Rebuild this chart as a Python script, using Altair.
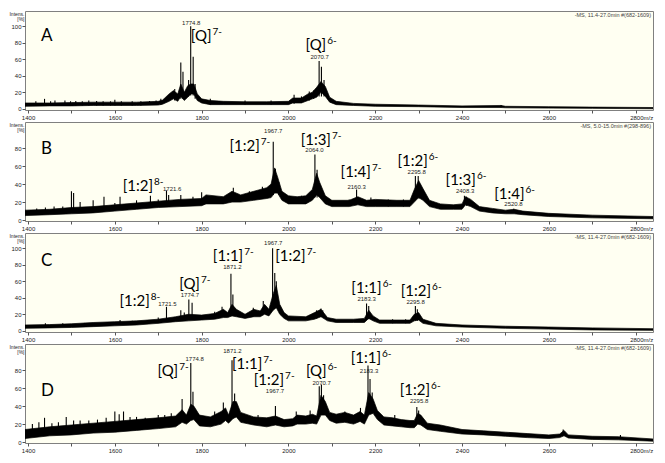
import altair as alt
import pandas as pd

X_DOMAIN = [1393, 2840]
X_TICKS = list(range(1400, 2900, 100))

# ---------------- Panel A ----------------
A_band_mz = [1393,1450,1500,1550,1600,1650,1700,1710,1725,1735,1745,1752,1760,1768,1775,1782,1790,1800,1820,1850,1900,1950,2000,2010,2030,2045,2055,2065,2075,2085,2095,2110,2150,2200,2300,2400,2490,2500,2600,2700,2840]
A_band_lo = [3,3.5,3.5,4,4,4,4.5,5.5,9,12,9,15,10,14,18,18,10,7,5,5,5,5,5,7,7,10,12,14,20,15,8,5,4,3,2.5,1.5,1.5,1.2,0.8,0.5,0]
A_band_hi = [7,7,7.5,8,8,8,9,10.5,18,22,18,30,20,28,30,30,18,12,10,9,8.5,8.5,9,13,13,18,20,26,33,27,14,9,6.5,5.5,4.5,3.5,4,3,2.5,2,1.5]
A_pk_mz = [1418,1438,1452,1462,1485,1498,1510,1525,1540,1558,1573,1590,1600,1615,1640,1660,1680,1695,1706,1738,1752,1757,1770,1774.8,1780.5,1785,1820,1900,1960,2013,2030,2048,2058,2070.7,2076,2082,2490]
A_pk_base = [4,4,4,4,4,4,4,4,4,4,4,4,4,4,4,4,4.5,4.5,5,10,12,12,15,16,16,12,5,5,5,6,7,10,12,15,15,15,1.5]
A_pk_top = [9,12,9,10,10,9,9.5,9,10,9.5,9,9,11,9,9,9,9.5,10,12,24,56,45,35,100,63,30,12,10,10,17,15,21,22,58,51,35,4.5]
A_ion_main = ["[Q]", "[Q]"]
A_ion_sup = ["7-", "6-"]
A_ion_x = [1822.7, 2087]
A_ion_y = [82.5, 71.5]
A_lbl = ["1774.8", "2070.7"]
A_lbl_x = [1776, 2072]
A_lbl_y = [101, 60]
A_side_lbl, A_side_x, A_side_y = [], [], []

# ---------------- Panel B ----------------
B_band_mz = [1393,1450,1500,1550,1600,1650,1700,1750,1800,1810,1850,1870,1890,1920,1950,1960,1968,1975,1985,2000,2020,2040,2055,2065,2072,2085,2100,2140,2160,2180,2200,2250,2280,2290,2300,2310,2325,2350,2380,2400,2408,2420,2440,2470,2500,2520,2540,2600,2700,2840]
B_band_lo = [5,6,7,8,10,12,14,15,16,18,18,20,20,22,24,25,30,30,22,18,18,18,22,28,25,18,15,15,17,15,15,15,15,20,25,22,15,12,12,12,17,15,10,8,7,7,6,4,2.5,1.5]
B_band_hi = [11,12,14,15,17,19,21,23,24,28,26,32,28,32,36,40,58,48,32,27,26,27,34,52,42,27,22,22,26,22,23,22,22,34,44,35,22,18,17,18,26,23,15,13,11,12,10,7.5,5.5,4]
B_pk_mz = [1420,1440,1460,1480,1500,1505,1520,1550,1575,1600,1612,1650,1682,1700,1719,1724,1752,1780,1800,1873,1910,1940,1965,1970,1978,2030,2061,2066,2140,2157,2190,2230,2265,2292.5,2299,2303,2405.5,2410,2519]
B_pk_base = [7,8,8,8,9,9,10,10,11,12,12,13,14,15,16,16,17,17,18,22,22,24,28,30,28,18,25,25,16,18,16,15,15,22,24,24,16,16,8]
B_pk_top = [13,14,15,15,32,30,20,22,26,19,26,22,27,23,33,28,28,26,31,36,32,37,87,57,42,27,73,56,23,34,25,23,23,49,49,40,27,26,12.5]
B_ion_main = ["[1:2]", "[1:2]", "[1:3]", "[1:4]", "[1:2]", "[1:3]", "[1:4]"]
B_ion_sup = ["8-", "7-", "7-", "7-", "6-", "6-", "6-"]
B_ion_x = [1688, 1934, 2098, 2190, 2321, 2432, 2544]
B_ion_y = [32.6, 77, 83.7, 47.4, 59.6, 38.9, 24]
B_lbl = ["1967.7", "2064.0", "2160.3", "2295.8", "2408.3", "2520.8"]
B_lbl_x = [1965, 2060, 2157, 2295.6, 2407, 2518.5]
B_lbl_y = [96.6, 75.9, 35, 51, 30, 15.9]
B_side_lbl, B_side_x, B_side_y = ["1721.6"], [1711], [32.6]

# ---------------- Panel C ----------------
C_band_mz = [1393,1450,1500,1550,1600,1650,1700,1740,1770,1800,1830,1850,1860,1870,1880,1900,1920,1935,1945,1955,1965,1972,1980,1990,2000,2040,2060,2075,2090,2110,2150,2175,2185,2195,2210,2250,2280,2290,2300,2310,2340,2400,2500,2600,2700,2840]
C_band_lo = [3,3.5,4,5,6,7,9,11,12,13,14,16,16,18,17,15,17,17,20,18,25,28,20,15,12,12,14,17,12,10,10,10,15,12,9,9,9,12,13,9,6,4.5,3,2,1,0.5]
C_band_hi = [7,7.5,8.5,10,11,12,14,17,20,19,21,26,22,32,26,20,26,24,32,26,45,55,32,22,18,17,22,26,16,14,14,15,25,18,13,13,13,20,22,14,9,7,5.5,4.5,3.5,2.5]
C_pk_mz = [1440,1480,1530,1612,1640,1700,1719,1752,1760,1770.5,1778,1830,1847,1867.5,1872,1919,1942,1963.5,1968.5,1972,2065,2075,2079,2180,2185,2240,2270,2292.5,2297]
C_pk_base = [4,5,5,7,7,9,11,12,12,13,13,15,18,20,20,17,21,28,28,28,15,17,17,14,14,9,9,12,12]
C_pk_top = [9,9,9.5,13,12,16,29,25,22,38,34,23,29,69,44,28,36,100,70,60,25,27,25,33,30,14,14,30,26]
C_ion_main = ["[1:2]", "[Q]", "[1:1]", "[1:2]", "[1:1]", "[1:2]"]
C_ion_sup = ["8-", "7-", "7-", "7-", "6-", "6-"]
C_ion_x = [1680.6, 1796, 1895.8, 2039.6, 2214.8, 2328.7]
C_ion_y = [30, 51, 84, 85, 46, 42]
C_lbl = ["1774.7", "1871.2", "1967.7", "2183.3", "2295.8"]
C_lbl_x = [1773, 1871, 1965, 2180, 2293]
C_lbl_y = [41.5, 74.5, 104.5, 35.5, 32.5]
C_side_lbl, C_side_x, C_side_y = ["1721.5"], [1700], [30]

# ---------------- Panel D ----------------
D_band_mz = [1393,1450,1500,1550,1600,1650,1700,1740,1755,1765,1775,1782,1795,1820,1845,1855,1862,1872,1880,1890,1920,1950,1970,1990,2010,2020,2040,2055,2065,2075,2085,2095,2110,2130,2150,2165,2175,2185,2195,2205,2220,2240,2260,2280,2290,2298,2305,2320,2350,2400,2450,2500,2550,2600,2625,2635,2645,2700,2760,2840]
D_band_lo = [4,7,8,10,11,13,15,17,22,20,24,25,18,17,20,24,21,26,28,22,19,17,19,17,18,20,20,21,20,30,30,24,21,22,20,23,20,30,32,25,19,18,17,16,16,20,19,14,12,9,8,6.5,5,4,5,7,4.5,3,2.5,1]
D_band_hi = [14,17,19,21,23,25,27,29,36,30,42,40,30,28,34,38,30,45,45,33,28,27,29,25,26,30,29,31,29,52,45,33,31,33,30,34,30,55,48,35,28,27,25,24,24,32,30,21,19,14,12.5,11,9.5,8,9,13,8,6.5,6,3.5]
D_pk_mz = [1410,1425,1438,1455,1470,1488,1505,1520,1540,1560,1580,1600,1610,1620,1635,1650,1670,1700,1715,1730,1755,1775,1780,1830,1850,1870,1876,1930,1970,2018,2050,2071,2076,2081,2130,2166,2183.3,2188,2193,2245,2295.8,2300,2633,2765]
D_pk_base = [8,9,10,10,10,12,12,12,12,13,14,15,15,15,16,16,16,18,18,19,24,26,26,21,24,28,28,20,22,22,23,30,30,30,25,25,32,32,32,21,22,22,8,4]
D_pk_top = [20,22,27,21,22,28,24,24,24,25,27,34,31,34,28,28,27,30,30,32,48,88,56,34,44,91,54,30,40,34,35,62,64,52,34,38,85,70,55,30,39,35,14,8]
D_ion_main = ["[Q]", "[1:1]", "[1:2]", "[Q]", "[1:1]", "[1:2]"]
D_ion_sup = ["7-", "7-", "7-", "6-", "6-", "6-"]
D_ion_x = [1746, 1939.7, 1990, 2088, 2213.4, 2326.4]
D_ion_y = [74, 81, 63, 73, 88, 52]
D_lbl = ["1774.8", "1871.2", "1967.7", "2070.7", "2183.3", "2295.8"]
D_lbl_x = [1784, 1871, 1969, 2076.5, 2185.7, 2301]
D_lbl_y = [89.6, 99.5, 54.5, 63.5, 77, 43]
D_side_lbl, D_side_x, D_side_y = [], [], []

LETTERS = ["A", "B", "C", "D"]
LETTER_X = 1430
LETTER_Y = [82, 73, 78, 51]
INFO = ["-MS, 11.4-27.0min #(682-1609)", "-MS, 5.0-15.0min #(298-896)",
        "-MS, 11.4-27.0min #(682-1609)", "-MS, 11.4-27.0min #(682-1609)"]
Y_DOMAINS = [[-1.5, 118.5], [-1, 109], [-1.5, 118.5], [-1, 109]]
Y_TICKS = [[0, 20, 40, 60, 80, 100], [0, 20, 40, 60, 80], [0, 20, 40, 60, 80, 100], [0, 20, 40, 60, 80]]

W, H = 628, 99
LABEL_FONT = "Lato"
AXIS_FONT = "Liberation Sans"


def panel(i, band_mz, band_lo, band_hi, pk_mz, pk_base, pk_top,
          ion_main, ion_sup, ion_x, ion_y, lbl, lbl_x, lbl_y,
          side_lbl, side_x, side_y):
    xs = alt.Scale(domain=X_DOMAIN, nice=False, zero=False)
    ys = alt.Scale(domain=Y_DOMAINS[i], nice=False, zero=False)
    xaxis = alt.Axis(
        values=X_TICKS, title=None, grid=False, domain=False,
        tickSize=3, tickColor="#555", labelPadding=1,
        labelFont=AXIS_FONT, labelFontSize=6, labelColor="#222",
        labelFlush=False, labelOverlap=False,
        labelExpr="datum.value % 200 == 0 ? (datum.value == 2800 ? '2800m/z' : toString(datum.value)) : ''",
        labelAlign={"condition": {"test": "datum.value == 2800", "value": "left"}, "value": "center"},
        labelOffset={"condition": {"test": "datum.value == 2800", "value": -6}, "value": 0},
    )
    yaxis = alt.Axis(
        values=Y_TICKS[i], grid=False, domain=False, tickSize=3, tickColor="#555",
        labelPadding=1, labelFont=AXIS_FONT, labelFontSize=6, labelColor="#222",
        title=["Intens.", "[%]"], titleAngle=0, titleAlign="right", titleBaseline="top",
        titleX=-1, titleY=0, titleFont=AXIS_FONT, titleFontSize=5,
        titleFontWeight="normal", titleLineHeight=5.5, titleColor="#222",
    )
    X = lambda f: alt.X(f, scale=xs, axis=xaxis)
    Y = lambda f: alt.Y(f, scale=ys, axis=yaxis)

    band = pd.DataFrame({"mz": band_mz, "y": band_lo, "hi": band_hi})
    peaks = pd.DataFrame({"mz": pk_mz, "y": pk_base, "top": pk_top})
    ions = pd.DataFrame({"main": ion_main, "sup": ion_sup, "mz": ion_x, "y": ion_y})
    labels = pd.DataFrame({"t": lbl, "mz": lbl_x, "y": lbl_y})
    sides = pd.DataFrame({"t": side_lbl, "mz": side_x, "y": side_y})
    letter = pd.DataFrame({"t": [LETTERS[i]], "mz": [LETTER_X], "y": [LETTER_Y[i]]})
    info = pd.DataFrame({"t": [INFO[i]]})

    band_layer = alt.Chart(band).mark_area(color="black", stroke="black", strokeWidth=0.7,
                                           clip=True).encode(
        x=X("mz:Q"), y=Y("y:Q"), y2="hi:Q")
    peak_layer = alt.Chart(peaks).mark_rule(color="black", strokeWidth=1.1, clip=True).encode(
        x=X("mz:Q"), y=Y("y:Q"), y2="top:Q")
    ion_main_layer = alt.Chart(ions).mark_text(
        align="right", baseline="alphabetic", font=LABEL_FONT, fontSize=15, color="black"
    ).encode(x=X("mz:Q"), y=Y("y:Q"), text="main:N")
    ion_sup_layer = alt.Chart(ions).mark_text(
        align="left", baseline="alphabetic", font=LABEL_FONT, fontSize=10, color="black", dx=1, dy=-6
    ).encode(x=X("mz:Q"), y=Y("y:Q"), text="sup:N")
    lbl_layer = alt.Chart(labels).mark_text(
        align="center", baseline="alphabetic", font=AXIS_FONT, fontSize=6, color="#222"
    ).encode(x=X("mz:Q"), y=Y("y:Q"), text="t:N")
    layers = [band_layer, peak_layer, ion_main_layer, ion_sup_layer, lbl_layer]
    if len(side_lbl):
        layers.append(alt.Chart(sides).mark_text(
            align="left", baseline="alphabetic", font=AXIS_FONT, fontSize=6, color="#222"
        ).encode(x=X("mz:Q"), y=Y("y:Q"), text="t:N"))
    layers.append(alt.Chart(letter).mark_text(
        align="left", baseline="alphabetic", font=LABEL_FONT, fontSize=17, color="black"
    ).encode(x=X("mz:Q"), y=Y("y:Q"), text="t:N"))
    layers.append(alt.Chart(info).mark_text(
        align="right", baseline="top", font=AXIS_FONT, fontSize=5.5, color="#444"
    ).encode(x=alt.value(W - 2), y=alt.value(2), text="t:N"))
    return alt.layer(*layers).properties(width=W, height=H)


pA = panel(0, A_band_mz, A_band_lo, A_band_hi, A_pk_mz, A_pk_base, A_pk_top,
           A_ion_main, A_ion_sup, A_ion_x, A_ion_y, A_lbl, A_lbl_x, A_lbl_y,
           A_side_lbl, A_side_x, A_side_y)
pB = panel(1, B_band_mz, B_band_lo, B_band_hi, B_pk_mz, B_pk_base, B_pk_top,
           B_ion_main, B_ion_sup, B_ion_x, B_ion_y, B_lbl, B_lbl_x, B_lbl_y,
           B_side_lbl, B_side_x, B_side_y)
pC = panel(2, C_band_mz, C_band_lo, C_band_hi, C_pk_mz, C_pk_base, C_pk_top,
           C_ion_main, C_ion_sup, C_ion_x, C_ion_y, C_lbl, C_lbl_x, C_lbl_y,
           C_side_lbl, C_side_x, C_side_y)
pD = panel(3, D_band_mz, D_band_lo, D_band_hi, D_pk_mz, D_pk_base, D_pk_top,
           D_ion_main, D_ion_sup, D_ion_x, D_ion_y, D_lbl, D_lbl_x, D_lbl_y,
           D_side_lbl, D_side_x, D_side_y)

chart = alt.vconcat(pA, pB, pC, pD, spacing=0).properties(
    padding={"left": 0, "top": 2, "right": 0, "bottom": 0},
    background="white",
).configure_view(fill="#fffff2", stroke="#808080", strokeWidth=1)

chart.save("out.html", embed_options={"renderer": "svg", "actions": False})
